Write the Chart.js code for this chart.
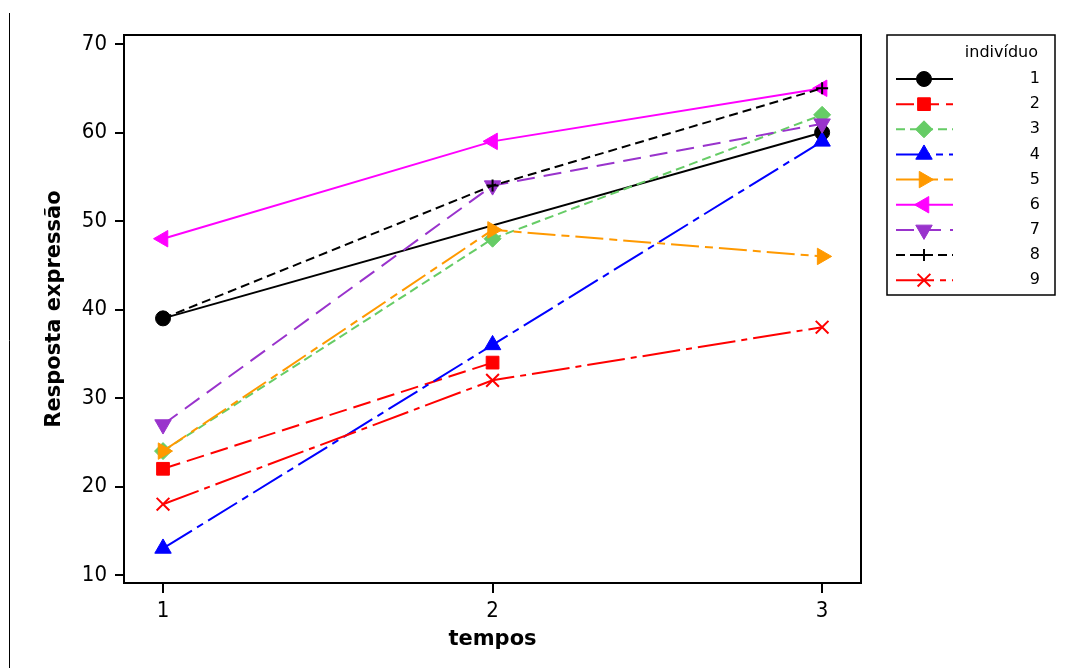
<!DOCTYPE html>
<html><head><meta charset="utf-8">
<script src="https://cdn.jsdelivr.net/npm/chart.js@4/dist/chart.umd.min.js"></script>
<style>html,body{margin:0;padding:0;background:#fff;} #wrap{width:1065px;height:668px;position:relative}</style>
</head><body><div id="wrap"><canvas id="c" width="1065" height="668"></canvas></div>
<script>
// ---- data ----
const tempos = [1, 2, 3];
const yTicks = [10, 20, 30, 40, 50, 60, 70];
const individuos = ['1', '2', '3', '4', '5', '6', '7', '8', '9'];
const s1 = [39, null, 60];
const s2 = [22, 34, null];
const s3 = [24, 48, 62];
const s4 = [13, 36, 59];
const s5 = [24, 49, 46];
const s6 = [48, 59, 65];
const s7 = [27, 54, 61];
const s8 = [39, 54, 65];
const s9 = [18, 32, 38];
const seriesValues = [s1, s2, s3, s4, s5, s6, s7, s8, s9];

// ---- styles ----
const styles = [
  {color: '#000000', dash: [], point: 'circle', rot: 0, r: 7.5},
  {color: '#FF0000', dash: [18, 7], point: 'rect', rot: 0, r: 9},
  {color: '#66CC66', dash: [9, 5], point: 'rectRot', rot: 0, r: 8.5},
  {color: '#0000FF', dash: [34, 6, 7, 6], point: 'triangle', rot: 0, r: 9.5},
  {color: '#FF9900', dash: [28, 6, 8, 6], point: 'triangle', rot: 90, r: 9.5},
  {color: '#FF00FF', dash: [], point: 'triangle', rot: -90, r: 9.5},
  {color: '#9933CC', dash: [18, 9], point: 'triangle', rot: 180, r: 9.5},
  {color: '#000000', dash: [9, 5], point: 'cross', rot: 0, r: 6},
  {color: '#FF0000', dash: [38, 6, 6, 6], point: 'crossRot', rot: 0, r: 9}
];

const datasets = seriesValues.map((vals, i) => {
  const st = styles[i];
  return {
    label: individuos[i],
    data: tempos.map((t, k) => ({x: t, y: vals[k]})),
    borderColor: st.color,
    backgroundColor: st.color,
    pointBackgroundColor: st.color,
    pointBorderColor: st.color,
    borderWidth: 2,
    borderDash: st.dash,
    pointStyle: st.point,
    pointRotation: st.rot,
    pointRadius: st.r,
    pointBorderWidth: (st.point === 'cross' || st.point === 'crossRot') ? 2 : 1,
    tension: 0,
    spanGaps: i === 0,
    order: 10 - i
  };
});

const font = 'DejaVu Sans';
const tickFont = 'DejaVu Sans Condensed, DejaVu Sans';
Chart.defaults.font.family = font;
Chart.defaults.color = '#000';

const framePlugin = {
  id: 'frame',
  afterDraw(chart) {
    const {ctx, chartArea: a} = chart;
    ctx.save();
    ctx.strokeStyle = '#000';
    ctx.lineWidth = 2;
    ctx.setLineDash([]);
    ctx.strokeRect(a.left, a.top, a.right - a.left, a.bottom - a.top);
    // page left rule
    ctx.lineWidth = 1;
    ctx.beginPath();
    ctx.moveTo(9.5, 13);
    ctx.lineTo(9.5, 668);
    ctx.stroke();

    // legend
    const bx = 887, by = 35, bw = 168, bh = 260;
    ctx.lineWidth = 1.5;
    ctx.strokeRect(bx, by, bw, bh);
    ctx.fillStyle = '#000';
    ctx.font = '16px "' + font + '"';
    ctx.textAlign = 'right';
    ctx.textBaseline = 'middle';
    ctx.fillText('indivíduo', 1038, 53);
    const lx0 = 896, lx1 = 953, mx = 924;
    chart.data.datasets.forEach((ds, i) => {
      const y = 79 + i * 25.15;
      const st = styles[i];
      ctx.save();
      ctx.strokeStyle = st.color;
      ctx.fillStyle = st.color;
      ctx.lineWidth = 2;
      ctx.setLineDash(st.dash);
      ctx.beginPath();
      ctx.moveTo(lx0, y);
      ctx.lineTo(lx1, y);
      ctx.stroke();
      ctx.setLineDash([]);
      ctx.lineWidth = ds.pointBorderWidth;
      Chart.helpers.drawPoint(ctx, {pointStyle: st.point, rotation: st.rot, radius: st.r, borderWidth: ds.pointBorderWidth}, mx, y);
      ctx.restore();
      ctx.fillStyle = '#000';
      ctx.fillText(ds.label, 1040, y);
    });
    ctx.restore();
  }
};

new Chart(document.getElementById('c'), {
  type: 'line',
  data: {datasets},
  options: {
    responsive: false,
    animation: false,
    devicePixelRatio: 1,
    layout: {padding: {left: 0, top: 35, right: 204, bottom: 0}},
    plugins: {legend: {display: false}, tooltip: {enabled: false}},
    scales: {
      x: {
        type: 'linear',
        min: 0.8816,
        max: 3.118,
        afterBuildTicks: s => { s.ticks = tempos.map(v => ({value: v})); },
        afterFit: s => { s.height = 85; },
        ticks: {font: {family: tickFont, size: 22}, padding: 5, maxRotation: 0, callback: v => String(v)},
        grid: {display: true, drawOnChartArea: false, drawTicks: true, tickLength: 10, color: '#000', lineWidth: 2},
        border: {display: true, color: '#000', width: 2},
        title: {display: true, text: 'tempos', font: {size: 21, weight: 'bold'}, padding: {top: 0, bottom: 16}}
      },
      y: {
        type: 'linear',
        min: 9.096,
        max: 71.02,
        afterBuildTicks: s => { s.ticks = yTicks.map(v => ({value: v})); },
        afterFit: s => { s.width = 124; },
        ticks: {font: {family: tickFont, size: 22}, padding: 8, callback: v => String(v)},
        grid: {display: true, drawOnChartArea: false, drawTicks: true, tickLength: 9, color: '#000', lineWidth: 2},
        border: {display: true, color: '#000', width: 2},
        title: {display: true, text: 'Resposta expressão', font: {size: 21, weight: 'bold'}, padding: {top: 42, bottom: 0}}
      }
    }
  },
  plugins: [framePlugin]
});
</script>
</body></html>
